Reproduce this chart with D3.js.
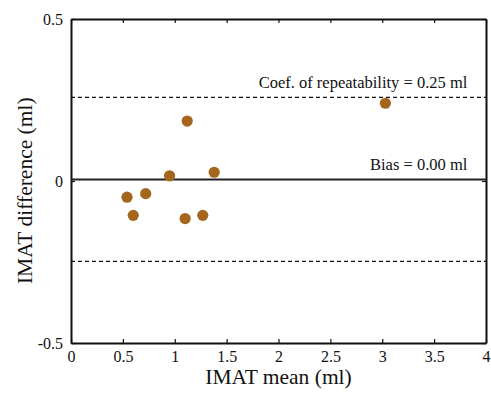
<!DOCTYPE html>
<html>
<head>
<meta charset="utf-8">
<script src="https://cdn.jsdelivr.net/npm/d3@7"></script>
<style>
  body { margin: 0; background: #fff; }
  svg text { font-family: 'Liberation Serif', 'Times New Roman', serif; fill: #111; }
</style>
</head>
<body>
<div id="chart"></div>
<script>
// IMAT Bland-Altman data
const meanVals = [0.54, 0.72, 0.60, 0.95, 1.10, 1.27, 1.38, 1.12, 3.03];
const diffVals = [-0.050, -0.039, -0.106, 0.016, -0.116, -0.106, 0.027, 0.185, 0.240];
const xTicks = [0, 0.5, 1, 1.5, 2, 2.5, 3, 3.5, 4];
const yTicks = [-0.5, 0, 0.5];
const bias = 0.005;
const coefRep = 0.253;

const width = 491, height = 393;
const margin = { top: 19, right: 5, bottom: 50, left: 71 };

const svg = d3.select('#chart').append('svg')
  .attr('width', width)
  .attr('height', height);

const x = d3.scaleLinear().domain([0, 4]).range([margin.left, width - margin.right]);
const y = d3.scaleLinear().domain([-0.5, 0.5]).range([height - margin.bottom, margin.top]);

const fmt = d => d === 0 ? '0' : String(d);

// bottom axis, ticks inward
const xAxis = svg.append('g')
  .attr('transform', `translate(0,${y(-0.5)})`)
  .call(d3.axisBottom(x).tickValues(xTicks).tickFormat(fmt).tickSizeInner(-4).tickSizeOuter(0).tickPadding(8));
// top axis ticks only
const xTop = svg.append('g')
  .attr('transform', `translate(0,${y(0.5)})`)
  .call(d3.axisTop(x).tickValues(xTicks).tickFormat('').tickSizeInner(-4).tickSizeOuter(0));
const yAxis = svg.append('g')
  .attr('transform', `translate(${x(0)},0)`)
  .call(d3.axisLeft(y).tickValues(yTicks).tickFormat(fmt).tickSizeInner(-4).tickSizeOuter(0).tickPadding(8));
const yRight = svg.append('g')
  .attr('transform', `translate(${x(4)},0)`)
  .call(d3.axisRight(y).tickValues(yTicks).tickFormat('').tickSizeInner(-4).tickSizeOuter(0));

[xAxis, xTop, yAxis, yRight].forEach(g => {
  g.select('.domain').attr('stroke', '#111').attr('stroke-width', 2);
  g.selectAll('.tick line').attr('stroke', '#111').attr('stroke-width', 1.2);
  g.selectAll('.tick text').attr('font-size', 16).attr('font-family', 'Liberation Serif');
});

// limits of agreement
const plot = svg.append('g');
plot.selectAll('.loa')
  .data([bias + coefRep, bias - coefRep])
  .join('line')
  .attr('class', 'loa')
  .attr('x1', x(0)).attr('x2', x(4))
  .attr('y1', d => y(d)).attr('y2', d => y(d))
  .attr('stroke', '#111')
  .attr('stroke-width', 1.3)
  .attr('stroke-dasharray', '4,3');

plot.append('line')
  .attr('x1', x(0)).attr('x2', x(4))
  .attr('y1', y(bias)).attr('y2', y(bias))
  .attr('stroke', '#222')
  .attr('stroke-width', 2);

// points
plot.selectAll('circle')
  .data(meanVals.map((m, i) => ({ m, d: diffVals[i] })))
  .join('circle')
  .attr('cx', p => x(p.m))
  .attr('cy', p => y(p.d))
  .attr('r', 5.6)
  .attr('fill', '#a4661c');

// annotations
plot.append('text')
  .attr('x', x(3.82)).attr('y', y(bias + coefRep) - 9)
  .attr('text-anchor', 'end')
  .attr('font-size', 16.5)
  .text('Coef. of repeatability = 0.25 ml');
plot.append('text')
  .attr('x', x(3.82)).attr('y', y(bias) - 9)
  .attr('text-anchor', 'end')
  .attr('font-size', 16.5)
  .text('Bias = 0.00 ml');

// axis titles
svg.append('text')
  .attr('x', (x(0) + x(4)) / 2)
  .attr('y', 384)
  .attr('text-anchor', 'middle')
  .attr('font-size', 21.5)
  .text('IMAT mean (ml)');
svg.append('text')
  .attr('transform', `translate(32,${y(-0.03)}) rotate(-90)`)
  .attr('text-anchor', 'middle')
  .attr('font-size', 21.5)
  .text('IMAT difference (ml)');
</script>
</body>
</html>
